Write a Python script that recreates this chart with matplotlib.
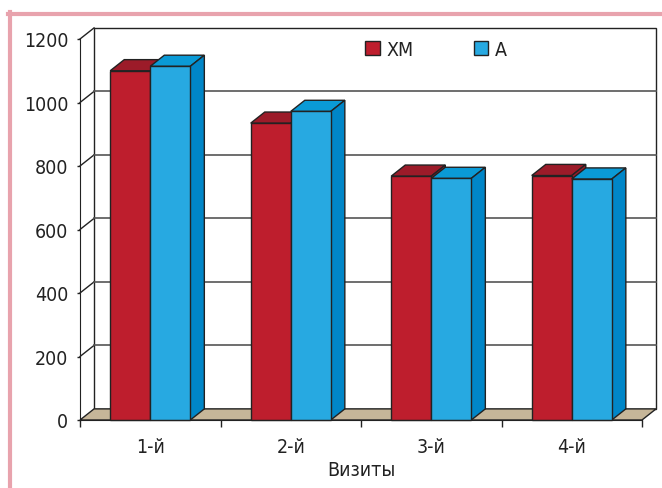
import matplotlib
matplotlib.use('Agg')
import matplotlib.pyplot as plt
from matplotlib.patches import Polygon
from matplotlib.lines import Line2D

# data
categories = ['1-й', '2-й', '3-й', '4-й']
hm_values = [1100, 935, 768, 770]
a_values = [1114, 972, 761, 759]
series_names = ['ХМ', 'А']
y_ticks = [0, 200, 400, 600, 800, 1000, 1200]
x_label = 'Визиты'

plt.rcParams['font.family'] = ['DejaVu Sans']
plt.rcParams['font.stretch'] = 'condensed'

red_front, red_top = '#be1e2d', '#9c1b29'
blue_front, blue_top, blue_side = '#27a9e1', '#0a9ad6', '#0086c8'
edge = '#222222'
floor_col = '#c6b699'
grid_col = '#555555'
fs = 14

fig = plt.figure(figsize=(6.62, 4.89), dpi=100)
ax = fig.add_axes([80/662, 68/489, 562/662, 381/489])
ax.set_xlim(0, 4)
ax.set_ylim(0, 1200)

# depth of the fake 3d (data units)
dx, dy = 0.1, 35
n = len(categories)
w = 0.285

# back wall + gridlines
wall = Polygon([(dx, dy), (n + dx, dy), (n + dx, 1200 + dy), (dx, 1200 + dy)],
               closed=True, facecolor='white', edgecolor=edge, lw=1.0,
               clip_on=False, zorder=1)
ax.add_patch(wall)
for v in y_ticks[1:]:
    ax.plot([0, dx], [v, v + dy], color=edge, lw=1.0, clip_on=False, zorder=2)
    if v < 1200:
        ax.plot([dx, n + dx], [v + dy, v + dy], color=grid_col, lw=1.2,
                clip_on=False, zorder=2)

# floor
floor = Polygon([(0, 0), (n, 0), (n + dx, dy), (dx, dy)], closed=True,
                facecolor=floor_col, edgecolor=edge, lw=1.0, clip_on=False, zorder=3)
ax.add_patch(floor)


def bar3d(x0, h, front, top, side, z):
    x1 = x0 + w
    ax.add_patch(Polygon([(x0, h), (x1, h), (x1 + dx, h + dy), (x0 + dx, h + dy)],
                         closed=True, facecolor=top, edgecolor=edge, lw=1.0,
                         clip_on=False, zorder=z))
    ax.add_patch(Polygon([(x1, 0), (x1 + dx, dy), (x1 + dx, h + dy), (x1, h)],
                         closed=True, facecolor=side, edgecolor=edge, lw=1.0,
                         clip_on=False, zorder=z))
    return ax.bar(x0, h, width=w, align='edge', color=front, edgecolor=edge,
                  lw=1.0, zorder=z + 0.5, clip_on=False)


handles = []
for i in range(n):
    c = i + 0.5
    b1 = bar3d(c - w, hm_values[i], red_front, red_top, red_top, 4 + i)
    b2 = bar3d(c, a_values[i], blue_front, blue_top, blue_side, 4.7 + i)
    if i == 0:
        handles = [b1, b2]

# axes look
for s in ['top', 'right']:
    ax.spines[s].set_visible(False)
ax.spines['left'].set_color(edge)
ax.spines['bottom'].set_color(edge)
ax.spines['left'].set_zorder(20)
ax.spines['bottom'].set_zorder(20)

ax.set_yticks(y_ticks)
ax.set_yticklabels([str(v) for v in y_ticks])
ax.tick_params(axis='y', length=2.5, width=1, pad=6, labelsize=fs, color=edge,
               labelcolor='#222222')

ax.set_xticks([i + 0.5 for i in range(n)])
ax.set_xticklabels(categories)
ax.set_xticks(range(n + 1), minor=True)
ax.tick_params(axis='x', which='major', length=0, pad=12, labelsize=fs,
               labelcolor='#222222')
ax.tick_params(axis='x', which='minor', length=5, width=1, color=edge)
ax.set_xlabel(x_label, fontsize=fs, labelpad=3, color='#222222')

fig.legend([h[0] for h in handles], series_names, loc='center left',
           bbox_to_anchor=(365/662, 1 - 50.5/489), ncol=2, frameon=False,
           fontsize=fs, borderpad=0, borderaxespad=0, handlelength=0.75,
           handleheight=0.75, handletextpad=0.35, columnspacing=3.1,
           labelcolor='#222222')

# pink frame
pink = '#e8a3ad'
fig.add_artist(Line2D([8/662, 1], [1 - 15/489] * 2, color=pink, lw=3))
fig.add_artist(Line2D([10/662] * 2, [0, 1 - 13/489], color=pink, lw=3))

fig.savefig('out.png', dpi=100)
